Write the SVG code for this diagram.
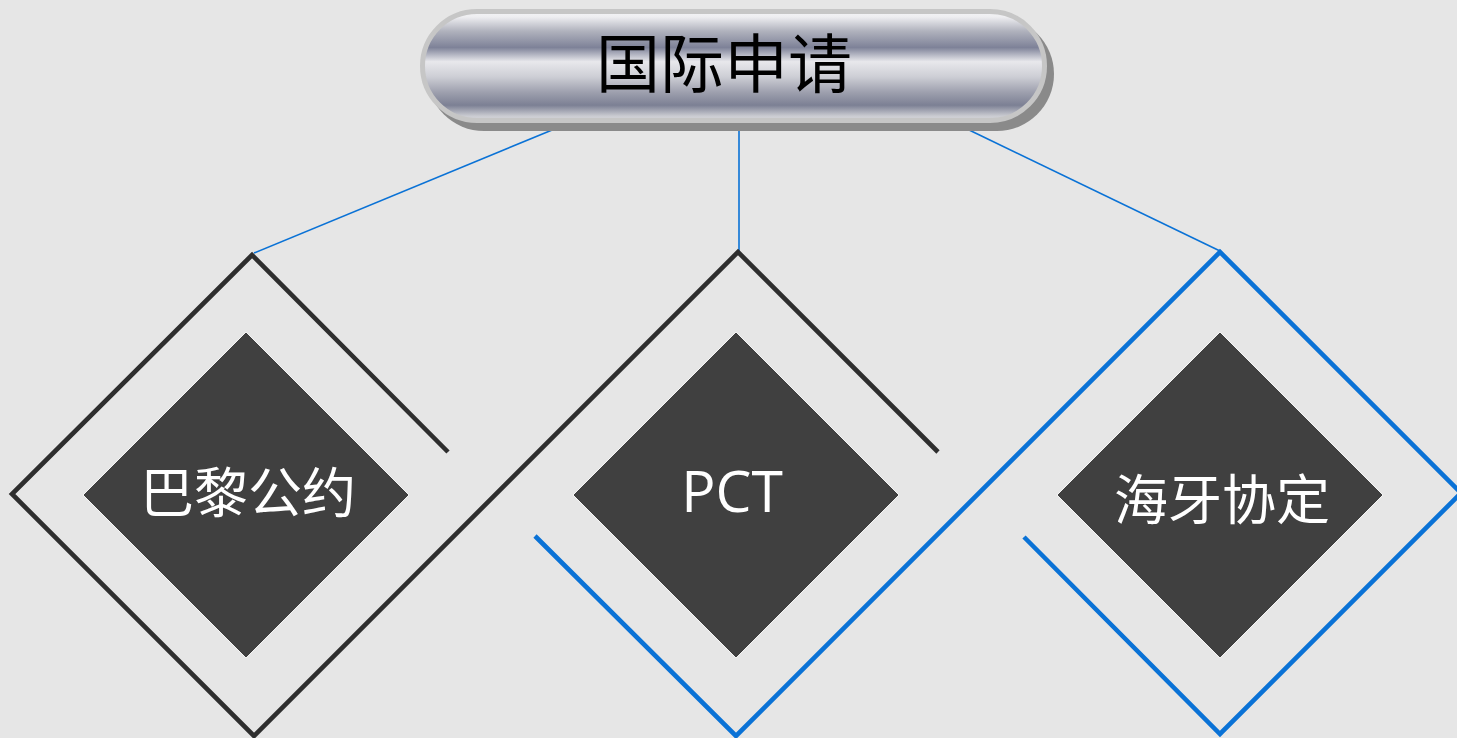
<svg xmlns="http://www.w3.org/2000/svg" width="1457" height="738" viewBox="0 0 1457 738">
<defs>
<linearGradient id="metal" x1="0" y1="0" x2="0" y2="1">
<stop offset="0" stop-color="#f4f4f6"/>
<stop offset="0.05" stop-color="#eeeef1"/>
<stop offset="0.18" stop-color="#b0b2bd"/>
<stop offset="0.33" stop-color="#7e8298"/>
<stop offset="0.46" stop-color="#e8e8ec"/>
<stop offset="0.6" stop-color="#cdced5"/>
<stop offset="0.74" stop-color="#9ea0ae"/>
<stop offset="0.86" stop-color="#7c8094"/>
<stop offset="0.96" stop-color="#cbccd2"/>
<stop offset="1" stop-color="#d4d4d8"/>
</linearGradient>
<style>
.frame{fill:none;stroke-width:4.6;stroke-linejoin:miter;stroke-miterlimit:10}
.dark{stroke:#2e2e2e}
.blue{stroke:#0a72d6}
.conn{fill:none;stroke:#0a72d6;stroke-width:1.6}
.inner{fill:#404040;stroke:#f4f4f4;stroke-width:1}
.lbl{fill:#ffffff;text-anchor:middle}
.cjk{font-family:"Noto Sans CJK SC","Noto Sans",sans-serif;font-size:54px}
</style>
</defs>
<rect width="1457" height="738" fill="#e6e6e6"/>
<g id="connectors">
<line class="conn" x1="557" y1="128" x2="254" y2="253"/>
<line class="conn" x1="739" y1="128" x2="739" y2="251"/>
<line class="conn" x1="965" y1="128" x2="1220" y2="251"/>
</g>
<g id="frames">
<polyline class="frame dark" points="448,452 252,255 12,494 254,736 738,252 938,452"/>
<polyline class="frame blue" points="535,536 736,736 1220,252 1461,493 1220,734 1024,537"/>
</g>
<g id="root">
<rect x="427" y="17" width="627" height="114" rx="57" fill="#8a8a8a"/>
<rect x="422.5" y="11.5" width="622" height="109" rx="54.5" fill="url(#metal)" stroke="#c6c6c6" stroke-width="5"/>
<text x="724" y="87" font-family="'Noto Sans CJK SC','Noto Sans',sans-serif" font-size="64" fill="#000000" text-anchor="middle">国际申请</text>
</g>
<g id="node-paris">
<polygon class="inner" points="246,332 409,495 246,658 83,495"/>
<text class="lbl cjk" x="248" y="513">巴黎公约</text>
</g>
<g id="node-pct">
<polygon class="inner" points="736,332 899,495 736,658 573,495"/>
<text class="lbl" x="732" y="512" font-family="'Open Sans','Noto Sans',sans-serif" font-size="57">PCT</text>
</g>
<g id="node-hague">
<polygon class="inner" points="1220,332 1383,495 1220,658 1057,495"/>
<text class="lbl cjk" x="1222" y="520">海牙协定</text>
</g>
</svg>
